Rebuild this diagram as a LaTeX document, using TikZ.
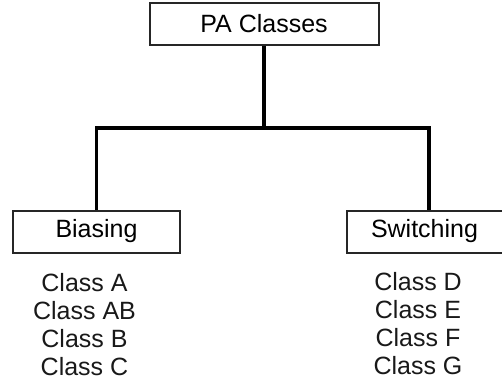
\documentclass[tikz,border=0pt]{standalone}
\usepackage{fontspec}
\setmainfont{Liberation Sans}
\usetikzlibrary{positioning}

\begin{document}
\begin{tikzpicture}[
        x=0.5pt, y=-0.5pt,
        box/.style={rectangle, draw=black!85, line width=1pt, minimum height=21pt, inner sep=2pt, font=\fontsize{12.5}{14}\selectfont},
        list/.style={align=center, inner sep=0pt, font=\fontsize{12.5}{14}\selectfont, text=black!90},
        link/.style={line width=1.6pt}
    ]
    \useasboundingbox (0,0) rectangle (502,385);

    % Root
    \node[box, minimum width=114.5pt] (root) at (264,24) {PA Classes};

    % Branches
    \node[box, minimum width=83.5pt] (bias) at (96.5,231.5) {Biasing};
    \node[box, anchor=west, text width=140pt, align=left] (switch) at (346,231.5) {\hspace*{10pt}Switching};

    % Class lists
    \node[list, below=9.5pt of bias, xshift=-6pt] (biaslist) {Class A\\Class AB\\Class B\\Class C};
    \node[list, anchor=north] (switchlist) at (418,272) {Class D\\Class E\\Class F\\Class G};

    % Connections
    \coordinate (split) at (264,128);
    \draw[link] (root.south) -- (split);
    \draw[link] (split) -| (bias.north);
    \draw[link] (split) -| ([xshift=41.5pt]switch.north west);
\end{tikzpicture}
\end{document}
